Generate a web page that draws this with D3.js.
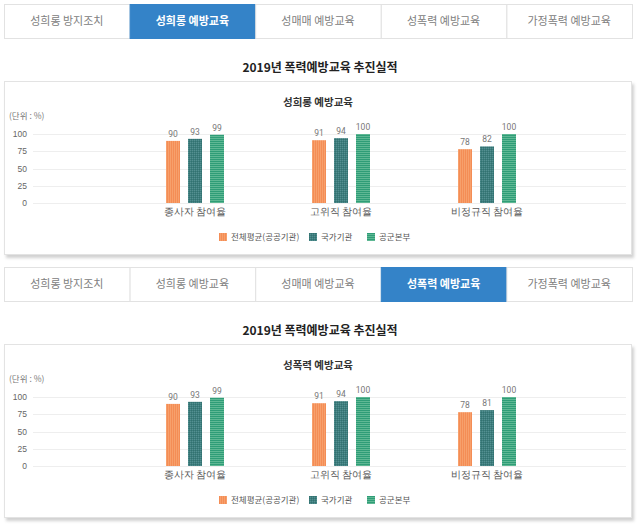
<!DOCTYPE html>
<html><head><meta charset="utf-8">
<script src="https://cdn.jsdelivr.net/npm/d3@7"></script>
<style>
html,body{margin:0;padding:0;background:#fff;}
svg{display:block;font-family:"Noto Sans CJK KR","Noto Sans",sans-serif;}
</style></head>
<body><svg id="c" width="640" height="525"></svg>
<script>
const tabs = ["성희롱 방지조치","성희롱 예방교육","성매매 예방교육","성폭력 예방교육","가정폭력 예방교육"];
const mainTitle = "2019년 폭력예방교육 추진실적";
const chartTitles = ["성희롱 예방교육","성폭력 예방교육"];
const activeTabs = [1, 3];
const categories = ["종사자 참여율","고위직 참여율","비정규직 참여율"];
const seriesNames = ["전체평균(공공기관)","국가기관","공군본부"];
const harassmentAvg = [90, 91, 78];
const harassmentNational = [93, 94, 82];
const harassmentAirForce = [99, 100, 100];
const violenceAvg = [90, 91, 78];
const violenceNational = [93, 94, 81];
const violenceAirForce = [99, 100, 100];
const yTicks = [0, 25, 50, 75, 100];
const unitLabel = "(단위 : %)";
const colors = ["#f48d55", "#3c7e7f", "#2f9d77"];

const panels = [
  [harassmentAvg, harassmentNational, harassmentAirForce],
  [violenceAvg, violenceNational, violenceAirForce]
];

const svg = d3.select("#c");
const defs = svg.append("defs");
const p0 = defs.append("pattern").attr("id","pat0").attr("patternUnits","userSpaceOnUse").attr("width",2).attr("height",2);
p0.append("rect").attr("width",2).attr("height",2).attr("fill",colors[0]);
p0.append("rect").attr("width",1).attr("height",2).attr("fill","#f7a06c");
const p1 = defs.append("pattern").attr("id","pat1").attr("patternUnits","userSpaceOnUse").attr("width",2).attr("height",2);
p1.append("rect").attr("width",2).attr("height",2).attr("fill",colors[1]);
p1.append("rect").attr("width",1).attr("height",1).attr("fill","#568f90");
p1.append("rect").attr("x",1).attr("y",1).attr("width",1).attr("height",1).attr("fill","#34716f");
const p2 = defs.append("pattern").attr("id","pat2").attr("patternUnits","userSpaceOnUse").attr("width",2).attr("height",2);
p2.append("rect").attr("width",2).attr("height",2).attr("fill",colors[2]);
p2.append("rect").attr("width",2).attr("height",1).attr("fill","#5fb894");
const f = defs.append("filter").attr("id","sh").attr("x","-5%").attr("y","-5%").attr("width","110%").attr("height","115%");
f.append("feDropShadow").attr("dx",2).attr("dy",3).attr("stdDeviation",1.5).attr("flood-color","#000").attr("flood-opacity",0.18);

const x0 = d3.scaleBand().domain(categories).range([122, 560]);
const x1 = d3.scaleBand().domain(seriesNames).range([-29, 29]).paddingInner(8/22);
const tabX = d3.scaleBand().domain(tabs).range([4, 632]);

panels.forEach((vals, pi) => {
  const oy = pi * 263;
  const g = svg.append("g").attr("transform", `translate(0,${oy})`);
  tabs.forEach((t, i) => {
    const active = i === activeTabs[pi];
    g.append("rect").attr("x", tabX(t)+0.5).attr("y", 4.5).attr("width", tabX.bandwidth()).attr("height", 34)
      .attr("fill", active ? "#3483c8" : "#fff").attr("stroke", active ? "#3483c8" : "#e2e2e2");
    g.append("text").attr("x", tabX(t)+tabX.bandwidth()/2).attr("y", 21.5).attr("dy","0.35em")
      .attr("text-anchor","middle").attr("font-size", 11).attr("font-weight", active ? "bold" : "normal")
      .attr("fill", active ? "#fff" : "#808080").text(t);
  });
  g.append("text").attr("x", 320).attr("y", 68).attr("dy","0.35em").attr("text-anchor","middle")
    .attr("font-size", 12).attr("font-weight","bold").attr("fill","#222").text(mainTitle);
  g.append("rect").attr("x", 4.5).attr("y", 81.5).attr("width", 627).attr("height", 173)
    .attr("fill","#fff").attr("stroke","#e3e3e3").attr("filter","url(#sh)");
  g.append("text").attr("x", 318).attr("y", 102).attr("dy","0.35em").attr("text-anchor","middle")
    .attr("font-size", 10.5).attr("font-weight","bold").attr("fill","#333").text(chartTitles[pi]);
  g.append("text").attr("x", 9).attr("y", 116).attr("dy","0.35em")
    .attr("font-size", 8.5).attr("fill","#777").text(unitLabel);
  const y = d3.scaleLinear().domain([0, 100]).range([203, 134]);
  g.append("g").selectAll("line").data(yTicks).join("line")
    .attr("x1", 33).attr("x2", 626).attr("y1", d => Math.round(y(d))+0.5).attr("y2", d => Math.round(y(d))+0.5)
    .attr("stroke", "#eeeeee");
  const ya = g.append("g").attr("transform","translate(33,0)")
    .call(d3.axisLeft(y).tickValues(yTicks).tickSize(0).tickPadding(6));
  ya.select(".domain").remove();
  ya.selectAll("text").attr("font-size", 8.5).attr("fill","#666").attr("font-family","inherit");
  const xa = g.append("g").attr("transform","translate(0,203)")
    .call(d3.axisBottom(x0).tickSize(0).tickPadding(5));
  xa.select(".domain").remove();
  xa.selectAll("text").attr("font-size", 9.5).attr("fill","#555").attr("font-family","inherit");
  const data = [];
  categories.forEach((c, ci) => seriesNames.forEach((s, si) => data.push({c, s, si, v: vals[si][ci]})));
  g.append("g").selectAll("rect").data(data).join("rect")
    .attr("x", d => x0(d.c) + x0.bandwidth()/2 + x1(d.s))
    .attr("width", x1.bandwidth())
    .attr("y", d => y(d.v)).attr("height", d => y(0) - y(d.v))
    .attr("fill", d => `url(#pat${d.si})`);
  g.append("g").selectAll("text").data(data).join("text")
    .attr("x", d => x0(d.c) + x0.bandwidth()/2 + x1(d.s) + x1.bandwidth()/2)
    .attr("y", d => y(d.v) - 4)
    .attr("text-anchor","middle").attr("font-size", 8.5).attr("fill","#777")
    .attr("font-family","'Liberation Sans Narrow','Roboto',sans-serif")
    .text(d => d.v);
  const legX = [219, 309, 367];
  seriesNames.forEach((s, si) => {
    g.append("rect").attr("x", legX[si]).attr("y", 233).attr("width", 8).attr("height", 8).attr("fill", `url(#pat${si})`);
    g.append("text").attr("x", legX[si] + 12).attr("y", 237).attr("dy","0.35em")
      .attr("font-size", 8.5).attr("fill","#555").text(s);
  });
});
</script></body></html>
